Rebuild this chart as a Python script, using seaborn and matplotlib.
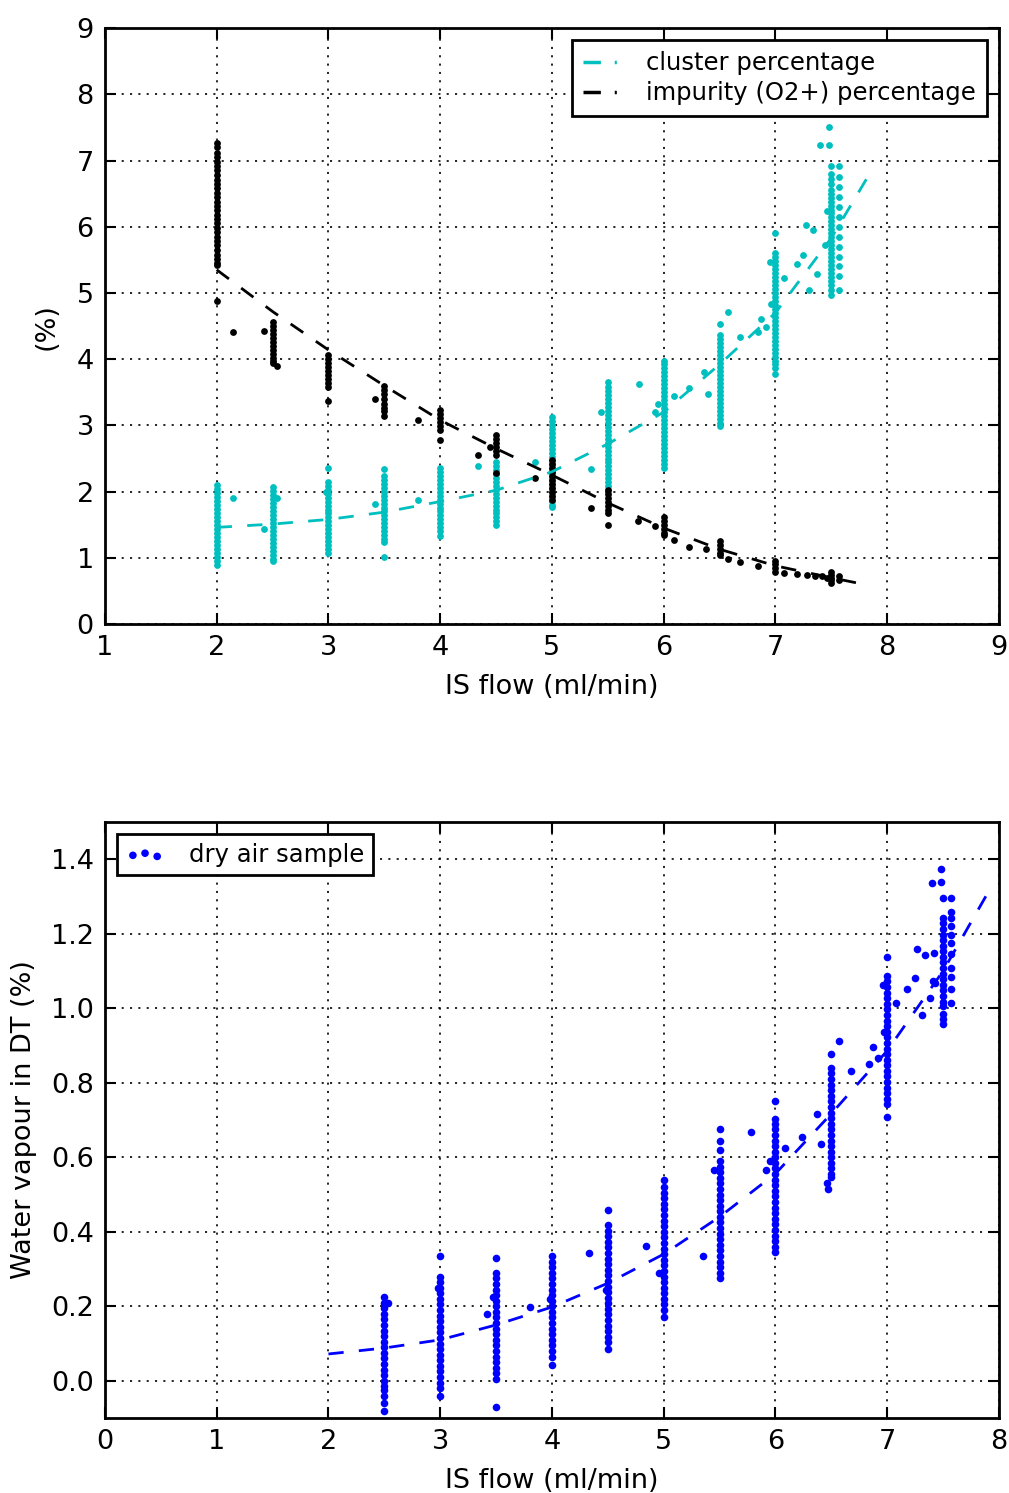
import numpy as np
import pandas as pd
import matplotlib
matplotlib.use("Agg")
import matplotlib.pyplot as plt
from matplotlib.lines import Line2D
import seaborn as sns

# ---------------- top panel: cluster / impurity percentage ----------------
cluster_cols = {
    2.0: [2.10, 2.04, 1.98, 1.92, 1.86, 1.80, 1.74, 1.68, 1.62, 1.56, 1.50, 1.44, 1.38,
          1.32, 1.26, 1.20, 1.14, 1.08, 1.02, 0.96, 0.89],
    2.5: [2.07, 2.01, 1.95, 1.89, 1.83, 1.77, 1.71, 1.65, 1.59, 1.53, 1.47, 1.41, 1.35,
          1.29, 1.23, 1.17, 1.11, 1.05, 0.99, 0.95],
    3.0: [2.36, 2.15, 2.09, 2.03, 1.97, 1.91, 1.85, 1.79, 1.73, 1.67, 1.61, 1.55, 1.49,
          1.43, 1.37, 1.31, 1.25, 1.19, 1.13, 1.07],
    3.5: [2.34, 2.24, 2.18, 2.12, 2.06, 2.00, 1.94, 1.88, 1.82, 1.76, 1.70, 1.64, 1.58,
          1.52, 1.46, 1.40, 1.34, 1.28, 1.24, 1.01],
    4.0: [2.36, 2.30, 2.24, 2.18, 2.12, 2.06, 2.00, 1.94, 1.88, 1.82, 1.76, 1.70, 1.64,
          1.58, 1.52, 1.46, 1.40, 1.33],
    4.5: [2.45, 2.39, 2.33, 2.27, 2.21, 2.15, 2.09, 2.03, 1.97, 1.91, 1.85, 1.79, 1.73,
          1.67, 1.61, 1.55, 1.50],
    5.0: [3.12, 3.06, 3.00, 2.94, 2.88, 2.82, 2.76, 2.70, 2.64, 2.58, 2.52, 2.46, 2.40,
          2.34, 2.28, 2.22, 2.16, 2.10, 2.04, 1.98, 1.92, 1.86, 1.80, 1.77],
    5.5: [3.66, 3.58, 3.52, 3.46, 3.40, 3.34, 3.28, 3.22, 3.16, 3.10, 3.04, 2.98, 2.92,
          2.86, 2.80, 2.74, 2.68, 2.62, 2.56, 2.50, 2.44, 2.38, 2.32, 2.26, 2.20, 2.14,
          2.08, 2.03],
    6.0: [3.98, 3.92, 3.86, 3.80, 3.74, 3.68, 3.62, 3.56, 3.50, 3.44, 3.38, 3.32, 3.26,
          3.20, 3.14, 3.08, 3.02, 2.96, 2.90, 2.84, 2.78, 2.72, 2.66, 2.60, 2.54, 2.48,
          2.42, 2.36],
    6.5: [4.53, 4.36, 4.30, 4.24, 4.18, 4.12, 4.06, 4.00, 3.94, 3.88, 3.82, 3.76, 3.70,
          3.64, 3.58, 3.52, 3.46, 3.40, 3.34, 3.28, 3.22, 3.16, 3.10, 3.04, 2.99],
    7.0: [5.91, 5.60, 5.54, 5.48, 5.42, 5.36, 5.30, 5.24, 5.18, 5.12, 5.06, 5.00, 4.94,
          4.88, 4.82, 4.76, 4.70, 4.64, 4.58, 4.52, 4.46, 4.40, 4.34, 4.28, 4.22, 4.16,
          4.10, 4.04, 3.98, 3.92, 3.86, 3.78],
    7.5: [6.91, 6.80, 6.72, 6.64, 6.56, 6.50, 6.44, 6.38, 6.32, 6.26, 6.20, 6.14, 6.08,
          6.02, 5.96, 5.90, 5.84, 5.78, 5.72, 5.66, 5.60, 5.54, 5.48, 5.42, 5.36, 5.30,
          5.24, 5.18, 5.12, 5.04, 4.97],
}
cluster_extra_x = [2.15, 2.42, 2.54, 2.98, 3.42, 3.80, 4.34, 4.85, 5.35, 5.44, 5.78, 5.92,
                   5.95, 6.09, 6.23, 6.36, 6.40, 6.58, 6.68, 6.84, 6.87, 6.92, 6.95, 6.96,
                   7.08, 7.19, 7.25, 7.27, 7.30, 7.34, 7.37, 7.40, 7.48, 7.48, 7.44, 7.46,
                   7.57, 7.57, 7.57, 7.57, 7.57, 7.57, 7.57, 7.57, 7.57, 7.57, 7.57, 7.57,
                   7.57]
cluster_extra_y = [1.90, 1.43, 1.90, 2.00, 1.81, 1.87, 2.38, 2.45, 2.34, 3.20, 3.63, 3.20,
                   3.33, 3.45, 3.57, 3.81, 3.48, 4.72, 4.33, 4.41, 4.61, 4.48, 5.47, 4.83,
                   5.23, 5.43, 5.57, 6.03, 5.05, 5.95, 5.29, 7.23, 7.24, 7.51, 5.72, 6.24,
                   6.91, 6.75, 6.60, 6.45, 6.30, 6.15, 6.00, 5.85, 5.70, 5.55, 5.40, 5.25,
                   5.05]

impurity_cols = {
    2.0: [7.27, 7.20, 7.12, 7.05, 6.98, 6.92, 6.85, 6.78, 6.71, 6.65, 6.58, 6.51, 6.45,
          6.38, 6.31, 6.25, 6.18, 6.12, 6.05, 5.98, 5.92, 5.85, 5.78, 5.72, 5.65, 5.58,
          5.52, 5.45, 5.42, 4.88],
    2.5: [4.56, 4.50, 4.44, 4.38, 4.32, 4.26, 4.20, 4.14, 4.08, 4.02, 3.97, 3.94],
    3.0: [4.06, 4.00, 3.94, 3.88, 3.82, 3.76, 3.70, 3.64, 3.58, 3.37],
    3.5: [3.59, 3.53, 3.47, 3.40, 3.33, 3.27, 3.21, 3.14],
    4.0: [3.23, 3.17, 3.11, 3.05, 2.99, 2.93, 2.78],
    4.5: [2.85, 2.79, 2.73, 2.67, 2.61, 2.55, 2.28],
    5.0: [2.48, 2.42, 2.36, 2.30, 2.24, 2.18, 2.12, 2.06, 2.00, 1.94, 1.88],
    5.5: [2.03, 1.97, 1.91, 1.85, 1.79, 1.73, 1.68, 1.50],
    6.0: [1.62, 1.56, 1.50, 1.44, 1.38, 1.34],
    6.5: [1.25, 1.19, 1.13, 1.07, 1.04],
    7.0: [0.96, 0.90, 0.84, 0.78],
    7.5: [0.78, 0.74, 0.70, 0.66, 0.62],
}
impurity_extra_x = [2.15, 2.42, 2.54, 3.42, 3.80, 4.34, 4.45, 4.85, 5.35, 5.77, 5.92, 6.09,
                    6.23, 6.38, 6.58, 6.68, 6.84, 7.08, 7.19, 7.28, 7.35, 7.42, 7.46, 7.57,
                    7.57]
impurity_extra_y = [4.41, 4.42, 3.90, 3.40, 3.08, 2.55, 2.67, 2.20, 1.76, 1.55, 1.48, 1.27,
                    1.17, 1.13, 0.98, 0.94, 0.87, 0.77, 0.76, 0.74, 0.73, 0.72, 0.70, 0.72,
                    0.67]

# fitted curves
cluster_fit_x = [2.0, 2.5, 3.0, 3.5, 4.0, 4.5, 5.0, 5.5, 6.0, 6.5, 7.0, 7.5, 7.85]
cluster_fit_y = [1.46, 1.51, 1.58, 1.69, 1.85, 2.02, 2.30, 2.72, 3.20, 3.92, 4.70, 5.83, 6.82]
impurity_fit_x = [2.0, 2.5, 3.0, 3.5, 4.0, 4.5, 5.0, 5.5, 6.0, 6.5, 7.0, 7.5, 7.85]
impurity_fit_y = [5.35, 4.72, 4.14, 3.60, 3.08, 2.65, 2.25, 1.83, 1.45, 1.13, 0.88, 0.70, 0.58]

# ---------------- bottom panel: water vapour ----------------
vapour_cols = {
    2.5: [0.226, 0.21, 0.195, 0.18, 0.165, 0.15, 0.135, 0.12, 0.105, 0.09, 0.075, 0.06,
          0.045, 0.03, 0.015, 0.0, -0.015, -0.025, -0.042, -0.06, -0.082],
    3.0: [0.334, 0.279, 0.265, 0.25, 0.235, 0.22, 0.205, 0.19, 0.175, 0.16, 0.145, 0.13,
          0.115, 0.10, 0.085, 0.07, 0.055, 0.04, 0.025, 0.01, -0.005, -0.02, -0.042],
    3.5: [0.33, 0.29, 0.275, 0.26, 0.245, 0.23, 0.215, 0.20, 0.185, 0.17, 0.155, 0.14,
          0.125, 0.11, 0.095, 0.08, 0.065, 0.05, 0.035, 0.02, 0.005, -0.07],
    4.0: [0.334, 0.32, 0.305, 0.29, 0.275, 0.26, 0.245, 0.23, 0.215, 0.20, 0.185, 0.17,
          0.155, 0.14, 0.125, 0.11, 0.095, 0.08, 0.065, 0.043],
    4.5: [0.458, 0.418, 0.403, 0.388, 0.373, 0.358, 0.343, 0.328, 0.313, 0.298, 0.283,
          0.268, 0.253, 0.238, 0.223, 0.208, 0.193, 0.178, 0.163, 0.148, 0.133, 0.118,
          0.103, 0.086],
    5.0: [0.538, 0.52, 0.505, 0.49, 0.475, 0.46, 0.445, 0.43, 0.415, 0.40, 0.385, 0.37,
          0.355, 0.34, 0.325, 0.31, 0.295, 0.28, 0.265, 0.25, 0.235, 0.22, 0.205, 0.19,
          0.17],
    5.5: [0.677, 0.645, 0.62, 0.59, 0.575, 0.56, 0.545, 0.53, 0.515, 0.50, 0.485, 0.47,
          0.455, 0.44, 0.425, 0.41, 0.395, 0.38, 0.365, 0.35, 0.335, 0.32, 0.305, 0.29,
          0.275],
    6.0: [0.752, 0.704, 0.69, 0.675, 0.66, 0.645, 0.63, 0.615, 0.60, 0.585, 0.57, 0.555,
          0.54, 0.525, 0.51, 0.495, 0.48, 0.465, 0.45, 0.435, 0.42, 0.405, 0.39, 0.375,
          0.36, 0.345],
    6.5: [0.878, 0.84, 0.825, 0.81, 0.795, 0.78, 0.765, 0.75, 0.735, 0.72, 0.705, 0.69,
          0.675, 0.66, 0.645, 0.63, 0.615, 0.60, 0.585, 0.57, 0.555, 0.546],
    7.0: [1.138, 1.087, 1.072, 1.057, 1.042, 1.027, 1.012, 0.997, 0.982, 0.967, 0.952,
          0.937, 0.922, 0.907, 0.892, 0.877, 0.862, 0.847, 0.832, 0.817, 0.802, 0.787,
          0.772, 0.757, 0.742, 0.708],
    7.5: [1.296, 1.243, 1.228, 1.213, 1.198, 1.183, 1.168, 1.153, 1.138, 1.123, 1.108,
          1.093, 1.078, 1.063, 1.048, 1.033, 1.018, 1.006, 0.984, 0.971, 0.957],
}
vapour_extra_x = [2.53, 2.98, 3.42, 3.47, 3.80, 3.98, 4.33, 4.48, 4.84, 4.96, 5.35, 5.45,
                  5.78, 5.92, 5.95, 6.09, 6.24, 6.37, 6.41, 6.46, 6.47, 6.57, 6.68, 6.84,
                  6.87, 6.92, 6.96, 6.97, 7.08, 7.18, 7.25, 7.27, 7.31, 7.34, 7.38, 7.40,
                  7.48, 7.48, 7.42, 7.41, 7.43,
                  7.57, 7.57, 7.57, 7.57, 7.57, 7.57, 7.57, 7.57, 7.57, 7.57, 7.57]
vapour_extra_y = [0.208, 0.25, 0.18, 0.225, 0.199, 0.22, 0.343, 0.245, 0.362, 0.29, 0.334,
                  0.565, 0.667, 0.565, 0.59, 0.626, 0.654, 0.717, 0.637, 0.53, 0.516, 0.913,
                  0.833, 0.851, 0.895, 0.866, 1.062, 0.937, 1.015, 1.051, 1.082, 1.159,
                  0.982, 1.144, 1.027, 1.337, 1.373, 1.339, 1.148, 1.072, 1.067,
                  1.296, 1.259, 1.243, 1.221, 1.198, 1.176, 1.145, 1.109, 1.084, 1.051, 1.013]

vapour_fit_x = [2.0, 2.5, 3.0, 3.5, 4.0, 4.5, 5.0, 5.5, 6.0, 6.5, 7.0, 7.5, 7.92]
vapour_fit_y = [0.072, 0.088, 0.11, 0.15, 0.198, 0.262, 0.34, 0.44, 0.556, 0.717, 0.886,
                1.10, 1.32]


def to_frame(cols, extra_x, extra_y):
    xs, ys = [], []
    for flow, vals in cols.items():
        xs += [flow] * len(vals)
        ys += vals
    xs += extra_x
    ys += extra_y
    return pd.DataFrame({"flow": xs, "value": ys})


cluster_df = to_frame(cluster_cols, cluster_extra_x, cluster_extra_y)
impurity_df = to_frame(impurity_cols, impurity_extra_x, impurity_extra_y)
vapour_df = to_frame(vapour_cols, vapour_extra_x, vapour_extra_y)

sns.set_style("ticks")
plt.rcParams.update({
    "font.family": ["DejaVu Sans"],
    "text.color": "k",
    "axes.labelcolor": "k",
    "xtick.color": "k",
    "ytick.color": "k",
    "axes.edgecolor": "k",
    "axes.linewidth": 2.0,
    "xtick.direction": "in",
    "ytick.direction": "in",
    "xtick.top": True,
    "ytick.right": True,
    "xtick.major.size": 8,
    "ytick.major.size": 8,
    "xtick.major.width": 1.5,
    "ytick.major.width": 1.5,
    "xtick.major.pad": 8,
    "ytick.major.pad": 8,
    "xtick.labelsize": 19.5,
    "ytick.labelsize": 19.5,
    "axes.labelsize": 19.5,
    "lines.scale_dashes": False,
})

DASH = (11, 11)
GRID_DOTS = (0, (1.5, 4.5))
LEG_DASH = (12.5, 10, 1.5, 60)

fig = plt.figure(figsize=(10.09, 14.93), dpi=100)
ax1 = fig.add_axes([0.104, 0.582, 0.886, 0.3992])
ax2 = fig.add_axes([0.104, 0.0502, 0.886, 0.3992])

# top panel
sns.scatterplot(data=cluster_df, x="flow", y="value", ax=ax1, color="c", s=24,
                linewidth=0, legend=False, zorder=3)
sns.lineplot(x=cluster_fit_x, y=cluster_fit_y, ax=ax1, color="c", linewidth=2.0,
             estimator=None, sort=True, zorder=4)
ax1.lines[-1].set_dashes(DASH)
sns.scatterplot(data=impurity_df, x="flow", y="value", ax=ax1, color="k", s=24,
                linewidth=0, legend=False, zorder=3)
sns.lineplot(x=impurity_fit_x, y=impurity_fit_y, ax=ax1, color="k", linewidth=2.0,
             estimator=None, sort=True, zorder=4)
ax1.lines[-1].set_dashes(DASH)

ax1.set_xlim(1, 9)
ax1.set_ylim(0, 9)
ax1.set_xticks(range(1, 10))
ax1.set_yticks(range(0, 10))
ax1.set_xlabel("IS flow (ml/min)", labelpad=9)
ax1.set_ylabel("(%)", labelpad=12)
ax1.grid(True, color="k", linestyle=GRID_DOTS, linewidth=1.2)

handles = [
    Line2D([0], [0], color="c", linewidth=2.5, dashes=LEG_DASH, dash_capstyle="butt"),
    Line2D([0], [0], color="k", linewidth=2.5, dashes=LEG_DASH, dash_capstyle="butt"),
]
leg = ax1.legend(handles, ["cluster percentage", "impurity (O2+) percentage"],
                 loc="upper right", fontsize=17.5, fancybox=False, edgecolor="k",
                 framealpha=1, handlelength=1.45, handletextpad=1.15,
                 borderaxespad=0.5, borderpad=0.45, labelspacing=0.25)
leg.get_frame().set_linewidth(2)

# bottom panel
sns.scatterplot(data=vapour_df, x="flow", y="value", ax=ax2, color="b", s=30,
                linewidth=0, label="dry air sample", zorder=3)
sns.lineplot(x=vapour_fit_x, y=vapour_fit_y, ax=ax2, color="b", linewidth=2.0,
             estimator=None, sort=True, zorder=4)
ax2.lines[-1].set_dashes(DASH)

ax2.set_xlim(0, 8)
ax2.set_ylim(-0.1, 1.5)
ax2.set_xticks(range(0, 9))
ax2.set_yticks([0.0, 0.2, 0.4, 0.6, 0.8, 1.0, 1.2, 1.4])
ax2.yaxis.set_major_formatter(matplotlib.ticker.FormatStrFormatter("%.1f"))
ax2.set_xlabel("IS flow (ml/min)", labelpad=9)
ax2.set_ylabel("Water vapour in DT (%)", labelpad=10)
ax2.grid(True, color="k", linestyle=GRID_DOTS, linewidth=1.2)

leg2 = ax2.legend(loc="upper left", fontsize=17.5, fancybox=False, edgecolor="k",
                  framealpha=1, scatterpoints=3, handlelength=1.6, handletextpad=1.0,
                  borderaxespad=0.5, borderpad=0.35)
leg2.get_frame().set_linewidth(2)

fig.savefig("out.png", dpi=100)
